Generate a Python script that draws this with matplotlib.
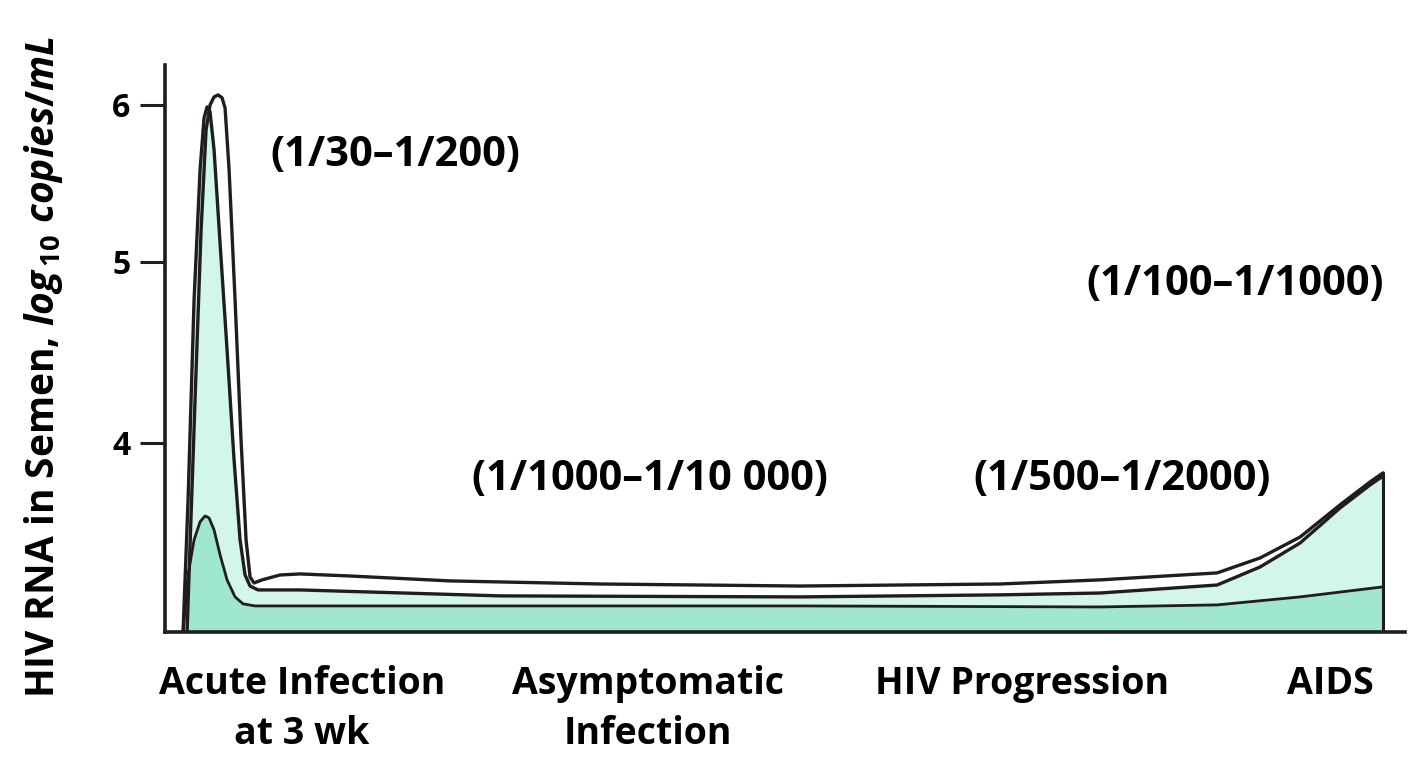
"""HIV RNA in semen over the course of infection (schematic)."""

import numpy as np
import matplotlib
matplotlib.use("Agg")
import matplotlib.pyplot as plt

plt.rcParams["font.family"] = ["Open Sans", "DejaVu Sans"]
plt.rcParams["font.weight"] = "bold"
plt.rcParams["mathtext.fontset"] = "custom"
plt.rcParams["mathtext.rm"] = "Open Sans:bold"
plt.rcParams["mathtext.it"] = "Open Sans:italic:bold"

# time along infection, arbitrary units; values in log10 copies/mL

# upper outline (top of the white band)
UPPER_T = [22, 30, 36, 41, 45, 49, 53, 57, 60, 64, 70, 76, 81, 85, 89, 97, 115,
           135, 185, 285, 435, 635, 835, 935, 1052, 1095, 1135, 1175, 1205, 1218]
UPPER = [3.078, 4.24, 5.20, 5.84, 6.00, 6.056, 6.07, 6.05, 5.98, 5.59, 4.79,
         4.015, 3.527, 3.346, 3.317, 3.332, 3.356, 3.361, 3.351, 3.327, 3.312,
         3.302, 3.312, 3.332, 3.366, 3.439, 3.541, 3.698, 3.81, 3.854]

# middle curve (top of the light green band)
MIDDLE_T = [18, 23, 29, 35, 39, 42, 45, 49, 55, 62, 69, 75, 80, 85, 93, 135,
            335, 635, 835, 935, 1052, 1095, 1135, 1175, 1205, 1218]
MIDDLE = [3.078, 3.722, 4.79, 5.586, 5.917, 5.987, 5.955, 5.713, 5.12, 4.514,
          3.917, 3.527, 3.356, 3.302, 3.283, 3.283, 3.254, 3.249, 3.259, 3.268,
          3.307, 3.395, 3.512, 3.683, 3.795, 3.839]

# lower curve (top of the darker green band)
LOWER_T = [18, 23, 29, 35, 40, 44, 49, 55, 62, 70, 78, 90, 235, 635, 935, 1052,
           1135, 1218]
LOWER = [3.078, 3.356, 3.527, 3.615, 3.644, 3.634, 3.576, 3.454, 3.332, 3.249,
         3.215, 3.205, 3.205, 3.205, 3.20, 3.21, 3.249, 3.298]

STAGES = ["Acute Infection\nat 3 wk", "Asymptomatic\nInfection", "HIV Progression", "AIDS"]
STAGE_X = [137, 483, 857, 1165]

RATES = ["(1/30–1/200)", "(1/1000–1/10 000)", "(1/500–1/2000)", "(1/100–1/1000)"]
RATE_X = [230, 485, 957, 1070]
RATE_Y = [5.68, 3.82, 3.82, 4.873]

Y_TICKS = [4, 5, 6]

# the drawn value axis is not evenly spaced; map log values onto it piecewise
_V = np.array([3.0, 4.0, 5.0, 6.0, 7.0])
_P = np.array([-648.0, -443.0, -262.0, -105.0, 37.0])


def _fwd(v):
    return np.interp(v, _V, _P)


def _inv(p):
    return np.interp(p, _P, _V)


LIGHT = "#d2f6e9"
DARK = "#9fe7cf"
INK = "#1e1e1e"
BASE = 3.078

fig = plt.figure(figsize=(14.12, 7.65), dpi=100)
ax = fig.add_axes([0.1169, 0.1739, 0.8782, 0.741])
ax.set_yscale("function", functions=(_fwd, _inv))

ax.fill_between(MIDDLE_T, BASE, MIDDLE, color=LIGHT, lw=0, zorder=1)
ax.fill_between(LOWER_T, BASE, LOWER, color=DARK, lw=0, zorder=2)
kw = dict(color=INK, solid_joinstyle="round", solid_capstyle="round", zorder=4)
ax.plot(UPPER_T, UPPER, lw=2.4, **kw)
ax.plot(MIDDLE_T, MIDDLE, lw=2.4, **kw)
ax.plot(LOWER_T, LOWER, lw=2.0, **kw)
ax.plot([UPPER_T[-1], UPPER_T[-1]], [BASE, UPPER[-1]], lw=2.2, **kw)

ax.set_xlim(0, 1240)
ax.set_ylim(BASE, 6.28)

for s in ("top", "right"):
    ax.spines[s].set_visible(False)
for s in ("left", "bottom"):
    ax.spines[s].set_linewidth(2.6)
    ax.spines[s].set_color(INK)

ax.set_yticks(Y_TICKS)
ax.set_yticklabels([str(v) for v in Y_TICKS])
ax.tick_params(axis="y", length=18, width=2.2, color=INK, labelsize=23, pad=7)
ax.set_xticks(STAGE_X)
ax.set_xticklabels(STAGES, linespacing=1.4)
ax.tick_params(axis="x", length=0, labelsize=27, pad=24)

for lbl, x, y in zip(RATES, RATE_X, RATE_Y):
    ax.text(x, y, lbl, ha="center", va="center", fontsize=30, fontweight="bold")

fig.text(0.031, (765 - 698) / 765,
         r"HIV RNA in Semen, $\mathit{log}_{\,\mathit{10}}\ \mathit{copies/mL}$",
         rotation=90, ha="center", va="bottom", fontsize=28, fontweight="bold")

fig.savefig("out.png", dpi=100)
